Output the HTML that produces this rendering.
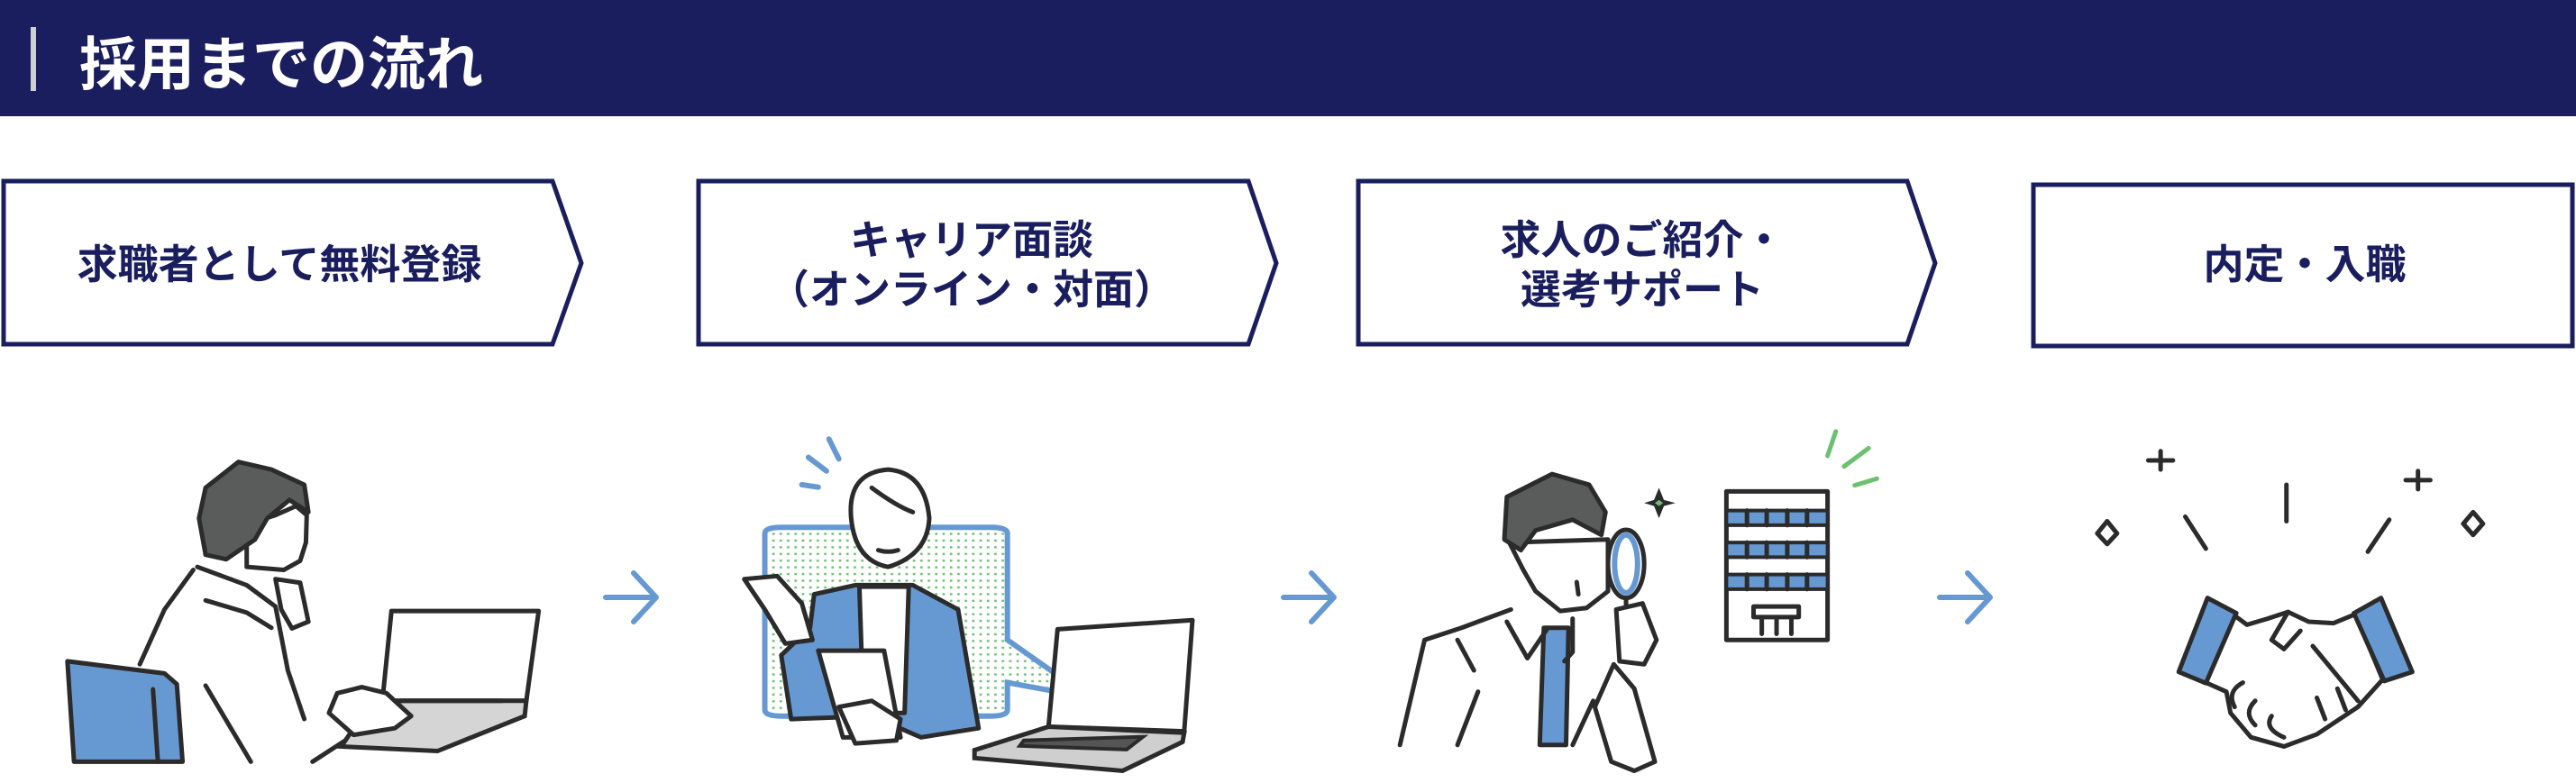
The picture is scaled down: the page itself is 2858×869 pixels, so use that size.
<!DOCTYPE html>
<html><head><meta charset="utf-8"><style>
html,body{margin:0;padding:0;background:#fff;}
svg{display:block;}
text{font-family:"Liberation Sans","Noto Sans CJK JP",sans-serif;font-weight:bold;}
.s{fill:none;stroke:#2b2b2b;stroke-width:5;stroke-linecap:round;stroke-linejoin:round;vector-effect:non-scaling-stroke;}
.w{fill:#fff;stroke:#2b2b2b;stroke-width:5;stroke-linejoin:round;vector-effect:non-scaling-stroke;}
.b{fill:#6699d2;stroke:#2b2b2b;stroke-width:5;stroke-linejoin:round;vector-effect:non-scaling-stroke;}
.h{fill:#5a5c5b;stroke:#2b2b2b;stroke-width:5;stroke-linejoin:round;vector-effect:non-scaling-stroke;}
.bl{fill:none;stroke:#6699d2;stroke-width:6;stroke-linecap:round;vector-effect:non-scaling-stroke;}
.gr{fill:none;stroke:#6cc070;stroke-width:5;stroke-linecap:round;vector-effect:non-scaling-stroke;}
</style></head><body>
<svg width="2858" height="869" viewBox="0 0 2858 869" xmlns="http://www.w3.org/2000/svg">
<defs>
<pattern id="dots" patternUnits="userSpaceOnUse" width="9" height="22">
<rect width="9" height="22" fill="#fff"/>
<rect x="3" y="8" width="3" height="7" fill="#6cc070"/>
</pattern>
</defs>
<rect x="0" y="0" width="2858" height="129" fill="#1a1e5e"/>
<rect x="34" y="30" width="6" height="71" fill="#cfcfd6"/>
<text x="88" y="94" font-size="64" fill="#fff">採用までの流れ</text>

<g fill="#fff" stroke="#1a1e5e" stroke-width="5">
<polygon points="4,201 613,201 645,292 613,382 4,382"/>
<polygon points="775,201 1385,201 1416,292 1385,382 775,382"/>
<polygon points="1507,201 2116,201 2147,292 2116,382 1507,382"/>
<rect x="2256" y="205" width="598" height="179"/>
</g>
<g fill="#1a1e5e" font-size="45" text-anchor="middle">
<text x="310" y="309">求職者として無料登録</text>
<text x="1078" y="282">キャリア面談</text>
<text x="1078" y="337">（オンライン・対面）</text>
<text x="1822" y="282">求人のご紹介・</text>
<text x="1822" y="337">選考サポート</text>
<text x="2557" y="309">内定・入職</text>
</g>

<g fill="none" stroke="#6699d2" stroke-width="6" stroke-linecap="round" stroke-linejoin="round">
<path d="M672,663 H728 M703,636 L728,663 L703,690"/>
<path d="M1424,663 H1480 M1455,636 L1480,663 L1455,690"/>
<path d="M2152,663 H2208 M2183,636 L2208,663 L2183,690"/>
</g>

<g transform="translate(0,440) scale(0.9124,0.3378)">
<path class="b" d="M82,870 L200,910 L215,945 L222,1200 L90,1200 Z"/>
<path class="s" d="M186,962 L192,1200"/>
<path class="s" d="M235,570 L200,700 L170,880"/>
<path class="s" d="M240,560 L300,620 L335,690 L350,900 L370,1060"/>
<path class="s" d="M250,950 L305,1200"/>
<path class="s" d="M380,1200 L420,1130"/>
<path class="s" d="M250,670 L300,710 L330,760"/>
<path class="w" d="M300,420 L335,390 L360,360 L373,390 L372,480 L365,540 L345,570 L300,560 Z"/>
<path class="h" d="M250,300 L290,215 L330,240 L370,290 L375,380 L352,340 L325,400 L310,470 L275,535 L250,520 L242,400 Z"/>
<path class="w" d="M335,600 L365,612 L375,740 L355,762 L342,700 Z"/>
<path class="w" d="M476,705 L655,705 L640,1000 L465,1000 Z"/>
<path d="M480,1000 L640,1000 L638,1050 L532,1165 L415,1150 L425,1110 Z" fill="#d5d5d5" stroke="#2b2b2b" stroke-width="5" vector-effect="non-scaling-stroke"/>
<path class="s" d="M488,1000 L610,1000"/>
<path class="w" d="M410,975 L440,955 L470,975 L500,1050 L480,1090 L430,1112 L400,1040 Z"/>

<path d="M950,430 H1205 Q1225,430 1225,450 V800 L1325,990 L1225,940 V1030 Q1225,1050 1205,1050 H950 Q930,1050 930,1030 V450 Q930,430 950,430 Z" fill="url(#dots)" stroke="#6699d2" stroke-width="6" vector-effect="non-scaling-stroke"/>
<path class="b" d="M990,650 L1040,620 L1110,620 L1165,700 L1190,1090 L1120,1120 L1060,1050 L962,1060 L950,850 L985,760 Z"/>
<path class="w" d="M1045,625 L1105,625 L1100,1040 L1050,1040 Z"/>
<path class="w" d="M1035,400 Q1030,250 1080,240 Q1125,250 1130,400 Q1128,520 1080,560 Q1040,540 1035,400 Z"/>
<path class="s" d="M1060,300 Q1090,360 1110,380"/>
<path class="s" d="M1068,505 Q1080,515 1092,505"/>
<path class="w" d="M905,600 L945,590 L975,680 L988,800 L955,812 L930,700 Z"/>
<path class="w" d="M995,835 L1075,835 L1095,1120 L1025,1120 Z"/>
<path class="w" d="M1020,1020 L1060,1000 L1095,1060 L1090,1130 L1040,1140 Z"/>
<path class="bl" d="M1008,140 L1020,205 M983,200 L1005,245 M975,290 L995,298"/>
<path class="w" d="M1286,765 L1450,735 L1440,1100 L1275,1085 Z"/>
<path d="M1185,1162 L1275,1085 L1440,1105 L1438,1135 L1365,1230 L1185,1188 Z" fill="#cfcfcf" stroke="#2b2b2b" stroke-width="5" vector-effect="non-scaling-stroke"/>
<path d="M1245,1130 L1390,1118 L1370,1160 L1240,1148 Z" fill="#555" stroke="#2b2b2b" stroke-width="4" vector-effect="non-scaling-stroke"/>
</g>

<g transform="translate(1430,440) scale(0.9124,0.3378)">
<path class="s" d="M135,1145 L165,800 L210,760 L270,700"/>
<path class="s" d="M205,1145 L230,970"/>
<path class="s" d="M205,800 L225,900"/>
<path class="b" d="M310,760 L340,760 L337,1145 L305,1145 Z"/>
<path class="s" d="M265,740 L290,860 L315,760 M345,730 L345,840 L335,870"/>
<path class="s" d="M370,1000 L345,1145"/>
<path class="w" d="M395,880 L420,960 L445,1200 L420,1230 L392,1200 L372,1020 Z"/>
<path class="w" d="M268,480 L285,570 L300,640 L330,705 L362,695 L388,640 L388,470 Z"/>
<path class="h" d="M262,470 L265,330 L320,255 L365,290 L385,380 L380,455 L345,405 L300,440 L282,505 Z"/>
<path class="s" d="M350,610 L352,650"/>
<ellipse cx="410" cy="550" rx="22" ry="112" fill="#fff" stroke="#2b2b2b" stroke-width="5" vector-effect="non-scaling-stroke"/>
<ellipse cx="410" cy="550" rx="14" ry="95" fill="none" stroke="#6699d2" stroke-width="6" vector-effect="non-scaling-stroke"/>
<path class="s" d="M410,662 L410,730"/>
<path class="w" d="M398,700 L430,680 L447,800 L432,880 L402,870 Z"/>
<path d="M450,300 L456,340 L470,350 L456,360 L450,400 L444,360 L432,350 L444,340 Z" fill="#2b2b2b"/>
<path d="M450,340 L455,350 L450,360 L445,350 Z" fill="#6cc070"/>
<rect x="532" y="312" width="123" height="488" class="w"/>
<g fill="#6699d2" stroke="#2b2b2b" stroke-width="4">
<rect x="532" y="375" width="123" height="48" vector-effect="non-scaling-stroke"/>
<rect x="532" y="480" width="123" height="48" vector-effect="non-scaling-stroke"/>
<rect x="532" y="585" width="123" height="48" vector-effect="non-scaling-stroke"/>
</g>
<path class="s" d="M557,375 V423 M581,375 V423 M606,375 V423 M630,375 V423 M557,480 V528 M581,480 V528 M606,480 V528 M630,480 V528 M557,585 V633 M581,585 V633 M606,585 V633 M630,585 V633"/>
<rect x="565" y="690" width="55" height="35" class="w"/>
<path class="s" d="M575,725 V780 M593,725 V780 M611,725 V780"/>
<path class="gr" d="M665,115 L655,195 M705,170 L675,230 M715,270 L688,292"/>
<path class="s" d="M1060,180 V240 M1045,210 H1075 M1373,245 V305 M1358,275 H1388"/>
<path class="s" d="M995,410 L1007,450 L995,485 L983,450 Z M1440,380 L1452,418 L1440,455 L1428,418 Z"/>
<path class="s" d="M1090,395 L1115,500 M1213,290 L1213,410 M1338,405 L1312,510"/>
<path class="w" d="M1150,720 L1165,750 L1190,730 L1215,708 L1240,740 L1270,745 L1297,715 L1330,930 L1300,1020 L1250,1110 L1210,1150 L1170,1120 L1145,1040 L1140,970 L1115,940 Z"/>
<path class="s" d="M1215,708 L1195,800 L1210,830 L1230,770"/>
<path class="s" d="M1245,820 L1300,1000 M1250,990 L1260,1060 M1275,960 L1285,1030"/>
<path class="s" d="M1160,940 Q1140,970 1150,1020 M1175,1000 Q1160,1040 1175,1080 M1195,1050 Q1185,1090 1210,1120"/>
<path class="b" d="M1117,662 L1152,712 L1115,942 L1082,905 Z"/>
<path class="b" d="M1328,662 L1295,712 L1332,935 L1366,905 Z"/>
</g>
</svg>
</body></html>
